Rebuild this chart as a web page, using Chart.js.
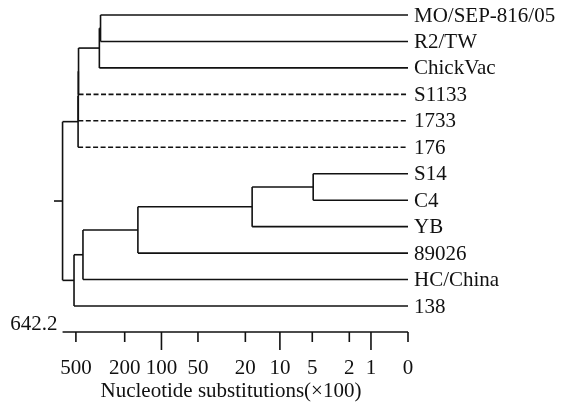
<!DOCTYPE html>
<html>
<head>
<meta charset="utf-8">
<script src="https://cdn.jsdelivr.net/npm/chart.js@4.4.0/dist/chart.umd.min.js"></script>
<style>
    html, body { margin: 0; padding: 0; background: #fff; }
</style>
</head>
<body>
<canvas id="tree" width="573" height="405"></canvas>
<script>
// leaves, top to bottom
const leaves = ["MO/SEP-816/05", "R2/TW", "ChickVac", "S1133", "1733", "176", "S14", "C4", "YB", "89026", "HC/China", "138"];
const dashedLeaves = ["S1133", "1733", "176"];

// internal nodes (joins), heights in nucleotide substitutions (x100)
const nodeNames = ["n1", "n2", "n3", "n4", "n5", "n6", "n7", "n8", "n9", "n10", "root"];
const nodeLeft = ["MO/SEP-816/05", "n1", "n2", "n3", "n4", "S14", "n6", "n7", "n8", "n9", "n5"];
const nodeRight = ["R2/TW", "ChickVac", "S1133", "1733", "176", "C4", "YB", "89026", "HC/China", "138", "n10"];
const nodeHeight = [315, 322, 476, 478, 480, 4.9, 17.5, 156, 438, 518, 642.2];
const rootStub = 754;

const tickValues = [500, 200, 100, 50, 20, 10, 5, 2, 1, 0];
const longTicks = [100, 10, 1];
const axisTitle = "Nucleotide substitutions(×100)";

const FONT = '21px "Liberation Serif", "Times New Roman", serif';
const tr = d => Math.log10(d + 1);

// positions of every leaf / node
const yPos = {};
const height = {};
leaves.forEach((name, i) => {
    yPos[name] = i;
    height[name] = 0;
});
nodeNames.forEach((name, k) => {
    yPos[name] = (yPos[nodeLeft[k]] + yPos[nodeRight[k]]) / 2;
    height[name] = nodeHeight[k];
});

function segment(x1, y1, x2, y2, dashed) {
    return {
        data: [{x: x1, y: y1}, {x: x2, y: y2}],
        showLine: true,
        borderColor: "#111",
        borderWidth: 1.6,
        borderDash: dashed ? [5, 2.5] : [],
        pointRadius: 0,
        clip: false,
    };
}

const datasets = [];
nodeNames.forEach((name, k) => {
    const h = tr(nodeHeight[k]);
    const kids = [nodeLeft[k], nodeRight[k]];
    datasets.push(segment(h, yPos[kids[0]], h, yPos[kids[1]], false));
    kids.forEach(c => {
        datasets.push(segment(h, yPos[c], tr(height[c]), yPos[c], dashedLeaves.includes(c)));
    });
});
datasets.push(segment(tr(rootStub), yPos.root, tr(height.root), yPos.root, false));

const axisPlugin = {
    id: "axisPlugin",
    afterDraw(chart) {
        const ctx = chart.ctx;
        const xs = chart.scales.x;
        const ys = chart.scales.y;
        const area = chart.chartArea;

        ctx.save();
        ctx.fillStyle = "#111";
        ctx.font = FONT;

        // leaf labels
        ctx.textAlign = "left";
        ctx.textBaseline = "middle";
        leaves.forEach((name, i) => {
            ctx.fillText(name, area.right + 6, ys.getPixelForValue(i) + 1);
        });

        // axis
        const axisY = area.bottom + 26;
        ctx.strokeStyle = "#111";
        ctx.lineWidth = 1.6;
        ctx.beginPath();
        ctx.moveTo(xs.getPixelForValue(tr(height.root)), axisY);
        ctx.lineTo(xs.getPixelForValue(0), axisY);
        tickValues.forEach(v => {
            const px = xs.getPixelForValue(tr(v));
            ctx.moveTo(px, axisY);
            ctx.lineTo(px, axisY + (longTicks.includes(v) ? 18 : 10));
        });
        ctx.stroke();

        ctx.textAlign = "center";
        tickValues.forEach(v => {
            ctx.fillText(String(v), xs.getPixelForValue(tr(v)), axisY + 36);
        });
        ctx.textAlign = "right";
        ctx.fillText(String(height.root), xs.getPixelForValue(tr(height.root)) - 5, axisY - 8);

        ctx.textAlign = "center";
        ctx.fillText(axisTitle, 231, axisY + 59);
        ctx.restore();
    }
};

const chart = new Chart(document.getElementById("tree").getContext("2d"), {
    type: "scatter",
    data: {datasets: datasets},
    options: {
        responsive: false,
        animation: false,
        events: [],
        layout: {padding: {left: 54, right: 165, top: 15, bottom: 99}},
        scales: {
            x: {type: "linear", min: 0, max: tr(rootStub), reverse: true, display: false},
            y: {type: "linear", min: 0, max: leaves.length - 1, reverse: true, display: false},
        },
        plugins: {legend: {display: false}, tooltip: {enabled: false}},
    },
    plugins: [axisPlugin],
});
</script>
</body>
</html>
